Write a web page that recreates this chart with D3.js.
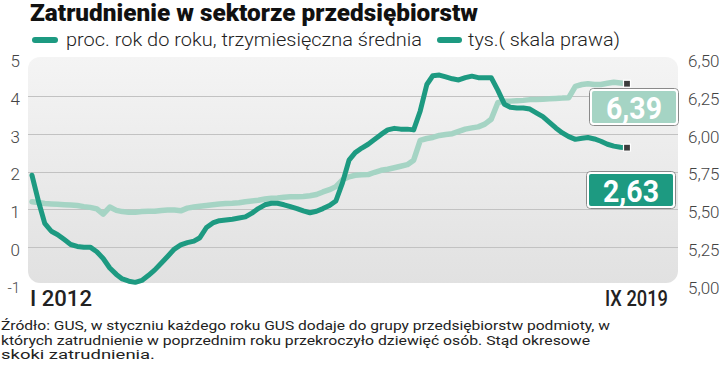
<!DOCTYPE html>
<html>
<head>
<meta charset="utf-8">
<script src="https://cdn.jsdelivr.net/npm/d3@7"></script>
<style>
  body { margin: 0; background: #fff; }
  svg { display: block; }
</style>
</head>
<body>
<div class="container"></div>
<script>
// months I 2012 .. IX 2019
var months = d3.timeMonth.range(new Date(2012, 0, 1), new Date(2019, 9, 1));

// proc. rok do roku (left scale)
var pctValues = [
  1.9, 1.2, 0.63, 0.42, 0.33, 0.2, 0.07, 0.02, 0.0, 0.0, -0.12, -0.3,
  -0.55, -0.72, -0.84, -0.9, -0.93, -0.88, -0.75, -0.6, -0.42, -0.24, -0.05, 0.06,
  0.12, 0.16, 0.25, 0.52, 0.64, 0.7, 0.72, 0.74, 0.77, 0.8, 0.9, 1.02,
  1.12, 1.16, 1.16, 1.12, 1.07, 1.02, 0.96, 0.91, 0.95, 1.02, 1.1, 1.22,
  1.7, 2.3, 2.5, 2.62, 2.72, 2.85, 2.98, 3.1, 3.14, 3.12, 3.12, 3.1,
  3.6, 4.3, 4.53, 4.55, 4.5, 4.45, 4.42, 4.48, 4.52, 4.48, 4.48, 4.48,
  4.15, 3.78, 3.7, 3.68, 3.68, 3.65, 3.55, 3.45, 3.3, 3.15, 3.02, 2.92,
  2.85, 2.88, 2.9, 2.86, 2.8, 2.72, 2.67, 2.64, 2.63
];

// tys. osób, mln (right scale)
var empValues = [
  5.550, 5.545, 5.538, 5.535, 5.533, 5.530, 5.528, 5.525, 5.518, 5.513, 5.503, 5.468,
  5.515, 5.493, 5.485, 5.480, 5.480, 5.485, 5.488, 5.488, 5.493, 5.495, 5.495, 5.490,
  5.508, 5.515, 5.520, 5.525, 5.530, 5.535, 5.538, 5.540, 5.543, 5.550, 5.555, 5.560,
  5.568, 5.573, 5.575, 5.580, 5.583, 5.583, 5.585, 5.590, 5.598, 5.615, 5.630, 5.650,
  5.695, 5.715, 5.725, 5.728, 5.730, 5.745, 5.758, 5.765, 5.775, 5.785, 5.795, 5.825,
  5.955, 5.968, 5.975, 5.988, 5.995, 6.000, 6.015, 6.030, 6.038, 6.045, 6.063, 6.095,
  6.205, 6.215, 6.215, 6.218, 6.220, 6.225, 6.225, 6.228, 6.230, 6.233, 6.235, 6.238,
  6.313, 6.325, 6.330, 6.325, 6.325, 6.333, 6.340, 6.335, 6.330
];

var leftTicks = [-1, 0, 1, 2, 3, 4, 5];
var rightTicks = [5.00, 5.25, 5.50, 5.75, 6.00, 6.25, 6.50];
var gridTicks = [0, 1, 2, 3, 4];
var xLabels = ['I 2012', 'IX 2019'];
var lastLabels = ['2,63', '6,39'];

var title = 'Zatrudnienie w sektorze przedsiębiorstw';
var legendLabels = ['proc. rok do roku, trzymiesięczna średnia', 'tys.( skala prawa)'];
var note = [
  'Źródło: GUS, w styczniu każdego roku GUS dodaje do grupy przedsiębiorstw podmioty, w',
  'których zatrudnienie w poprzednim roku przekroczyło dziewięć osób. Stąd okresowe',
  'skoki zatrudnienia.'
];

var dark = '#1d9a81';
var light = '#a5d4c4';

var w = 720, h = 367;
var svg = d3.select('.container').append('svg')
  .attr('width', w).attr('height', h);

var plot = { left: 28, right: 678, top: 57, bottom: 283 };

var x = d3.scaleTime()
  .domain([months[0], months[months.length - 1]])
  .range([32, 627]);
var yL = d3.scaleLinear().domain([-1, 5]).range([285, 58]);
var yR = d3.scaleLinear().domain([5, 6.5]).range([285, 58]);

/* ===== BACKGROUND ===== */
var grad = svg.append('defs').append('linearGradient')
  .attr('id', 'bg').attr('x1', 0).attr('y1', 0).attr('x2', 0).attr('y2', 1);
grad.append('stop').attr('offset', '0%').attr('stop-color', '#f4f4f4');
grad.append('stop').attr('offset', '100%').attr('stop-color', '#e1e1e1');

svg.append('rect')
  .attr('x', plot.left).attr('y', plot.top)
  .attr('width', plot.right - plot.left).attr('height', plot.bottom - plot.top)
  .attr('rx', 12)
  .attr('fill', 'url(#bg)');

svg.append('g').selectAll('line')
  .data(gridTicks).enter().append('line')
  .attr('x1', plot.left).attr('x2', plot.right)
  .attr('y1', function(d) { return Math.round(yL(d)) + 0.5; })
  .attr('y2', function(d) { return Math.round(yL(d)) + 0.5; })
  .attr('stroke', '#c2c2c2').attr('stroke-width', 1);

/* ===== AXES ===== */
var plFormat = d3.formatLocale({ decimal: ',', thousands: ' ', grouping: [3], currency: ['', ''] }).format('.2f');

var axL = svg.append('g')
  .attr('transform', 'translate(20,3)')
  .call(d3.axisLeft(yL).tickValues(leftTicks).tickSize(0).tickPadding(0)
    .tickFormat(function(d) { return String(d); }));
var axR = svg.append('g')
  .attr('transform', 'translate(688,3)')
  .call(d3.axisRight(yR).tickValues(rightTicks).tickSize(0).tickPadding(0).tickFormat(plFormat));
[axL, axR].forEach(function(ax) {
  ax.select('.domain').remove();
  ax.selectAll('text')
    .style('font-family', 'Roboto, sans-serif')
    .style('font-weight', 300)
    .style('font-size', '17px')
    .attr('fill', '#444');
});
axL.selectAll('text').filter(function(d) { return d < 0; })
  .style('font-size', '15px');

/* ===== LINES ===== */
var empLine = d3.line()
  .x(function(d, i) { return x(months[i]); })
  .y(function(d) { return yR(d); });
var pctLine = d3.line()
  .x(function(d, i) { return x(months[i]); })
  .y(function(d) { return yL(d); });

svg.append('path')
  .datum(empValues)
  .attr('d', empLine)
  .attr('fill', 'none').attr('stroke', light)
  .attr('stroke-width', 5.5).attr('stroke-linejoin', 'round').attr('stroke-linecap', 'round');

svg.append('path')
  .datum(pctValues)
  .attr('d', pctLine)
  .attr('fill', 'none').attr('stroke', dark)
  .attr('stroke-width', 5).attr('stroke-linejoin', 'round').attr('stroke-linecap', 'round');

/* end markers */
var last = months.length - 1;
[yR(empValues[last]), yL(pctValues[last])].forEach(function(py) {
  svg.append('rect')
    .attr('x', x(months[last]) - 3.5).attr('y', py - 3.5)
    .attr('width', 7).attr('height', 7)
    .attr('fill', '#3c3c3c').attr('stroke', '#fff').attr('stroke-width', 1.2);
});

/* ===== VALUE BOXES ===== */
var boxes = [
  { text: lastLabels[1], fill: light, x: 590, y: 89, w: 88, h: 36 },
  { text: lastLabels[0], fill: dark, x: 587, y: 172, w: 88, h: 36 }
];
boxes.forEach(function(b) {
  svg.append('rect')
    .attr('x', b.x - 0.5).attr('y', b.y - 0.5).attr('width', b.w + 1).attr('height', b.h + 1)
    .attr('rx', 4).attr('fill', 'none').attr('stroke', '#8a8a8a').attr('stroke-width', 1);
  svg.append('rect')
    .attr('x', b.x + 1).attr('y', b.y + 1).attr('width', b.w - 2).attr('height', b.h - 2)
    .attr('rx', 3).attr('fill', b.fill).attr('stroke', '#fff').attr('stroke-width', 2);
  svg.append('text')
    .attr('x', b.x + b.w / 2).attr('y', b.y + b.h - 6)
    .attr('text-anchor', 'middle')
    .attr('textLength', 56).attr('lengthAdjust', 'spacingAndGlyphs')
    .style('font-family', 'Roboto, sans-serif').style('font-weight', 700).style('font-size', '31px')
    .attr('fill', '#fff')
    .text(b.text);
});

/* ===== X LABELS ===== */
svg.append('text')
  .attr('x', 30).attr('y', 306)
  .attr('textLength', 62).attr('lengthAdjust', 'spacingAndGlyphs')
  .style('font-family', 'Roboto, sans-serif').style('font-weight', 500).style('font-size', '22px')
  .attr('fill', '#222').text(xLabels[0]);
svg.append('text')
  .attr('x', 605).attr('y', 306)
  .attr('textLength', 63).attr('lengthAdjust', 'spacingAndGlyphs')
  .style('font-family', 'Roboto, sans-serif').style('font-weight', 500).style('font-size', '22px')
  .attr('fill', '#222').text(xLabels[1]);

/* ===== TITLE & LEGEND ===== */
svg.append('text')
  .attr('x', 30).attr('y', 21)
  .attr('textLength', 448).attr('lengthAdjust', 'spacingAndGlyphs')
  .style('font-family', 'Roboto, sans-serif').style('font-weight', 900).style('font-size', '23px')
  .attr('fill', '#111').text(title);

var legend = [
  { x1: 32, x2: 58, tx: 66, tw: 356 },
  { x1: 437, x2: 462, tx: 468, tw: 152 }
];
legend.forEach(function(l, i) {
  svg.append('line')
    .attr('x1', l.x1 + 3).attr('x2', l.x2 - 3).attr('y1', 40).attr('y2', 40)
    .attr('stroke', dark).attr('stroke-width', 6).attr('stroke-linecap', 'round');
  svg.append('text')
    .attr('x', l.tx).attr('y', 46)
    .attr('textLength', l.tw).attr('lengthAdjust', 'spacingAndGlyphs')
    .style('font-family', 'Roboto, sans-serif').style('font-weight', 300).style('font-size', '19px')
    .attr('fill', '#222').text(legendLabels[i]);
});

/* ===== NOTE ===== */
var noteWidths = [609, 589, 154];
note.forEach(function(t, i) {
  svg.append('text')
    .attr('x', 1).attr('y', 330 + i * 14.5)
    .attr('textLength', noteWidths[i]).attr('lengthAdjust', 'spacingAndGlyphs')
    .style('font-family', 'Roboto, sans-serif').style('font-weight', 400).style('font-size', '12.5px')
    .attr('fill', '#222').text(t);
});
</script>
</body>
</html>
